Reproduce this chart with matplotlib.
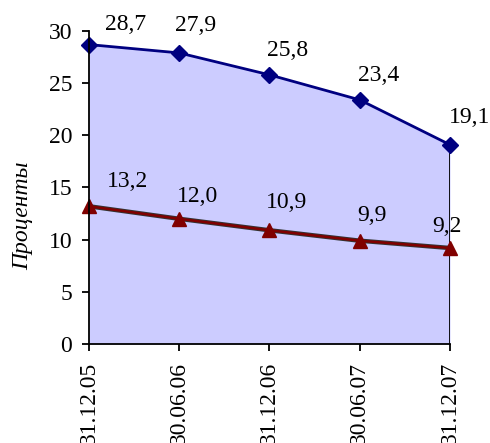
import numpy as np
import matplotlib.pyplot as plt

# dates of the reporting periods and the two series, %
dates = ['31.12.05', '30.06.06', '31.12.06', '30.06.07', '31.12.07']
upper = [28.7, 27.9, 25.8, 23.4, 19.1]
lower = [13.2, 12.0, 10.9, 9.9, 9.2]

# label shifts in pixels (left edge, baseline) relative to each point
upper_shift = [(16, 15), (-4, 22), (-2, 19), (-2, 19), (-1, 22)]
lower_shift = [(18, 19), (-2, 17), (-4, 22), (-2, 20), (-18, 16)]

plt.rcParams['font.family'] = ['Liberation Serif', 'DejaVu Serif']
fs = 17

fig = plt.figure(figsize=(4.9, 4.43), dpi=100)
ax = fig.add_axes([0.1816, 0.2235, 0.7367, 0.7065])

x = np.arange(len(dates))

# area under the upper series
ax.fill_between(x, 0, upper, color='#CCCCFF', linewidth=0, zorder=1)
ax.plot([x[-1], x[-1]], [0, upper[-1]], color='black', lw=1.3, zorder=2)

ax.plot(x, upper, color='#000080', lw=2, marker='D', markersize=8,
        zorder=4, clip_on=False)
# dark outline under the red line
ax.plot(x, lower, color='#333333', lw=3.2, zorder=3, clip_on=False)
ax.plot(x, lower, color='#800000', lw=1.8, marker='^', markersize=10,
        markeredgecolor='#800000', zorder=4, clip_on=False)

for vals, shifts in [(upper, upper_shift), (lower, lower_shift)]:
    for xi, v, (dx, dy) in zip(x, vals, shifts):
        ax.annotate(f'{v:.1f}'.replace('.', ','), (xi, v), xytext=(dx, dy),
                    textcoords='offset pixels', fontsize=fs, ha='left',
                    va='baseline', annotation_clip=False, zorder=6)

ax.set_xlim(0, 4)
ax.set_ylim(0, 30)
ax.set_yticks(range(0, 31, 5))
ax.set_xticks(x)
ax.set_xticklabels(dates, rotation=90, fontsize=fs)
ax.tick_params(axis='y', labelsize=fs, direction='out', length=5, width=1.3, pad=7)
ax.tick_params(axis='x', direction='out', length=5, width=1.3, pad=8)

ax.set_facecolor('none')
for s in ['top', 'right']:
    ax.spines[s].set_visible(False)
for s in ['left', 'bottom']:
    ax.spines[s].set_linewidth(1.3)
    ax.spines[s].set_zorder(5)

ax.set_ylabel('Проценты', fontsize=fs, style='italic')
ax.yaxis.set_label_coords(-0.155, 0.41)

fig.savefig('out.png', dpi=100)
